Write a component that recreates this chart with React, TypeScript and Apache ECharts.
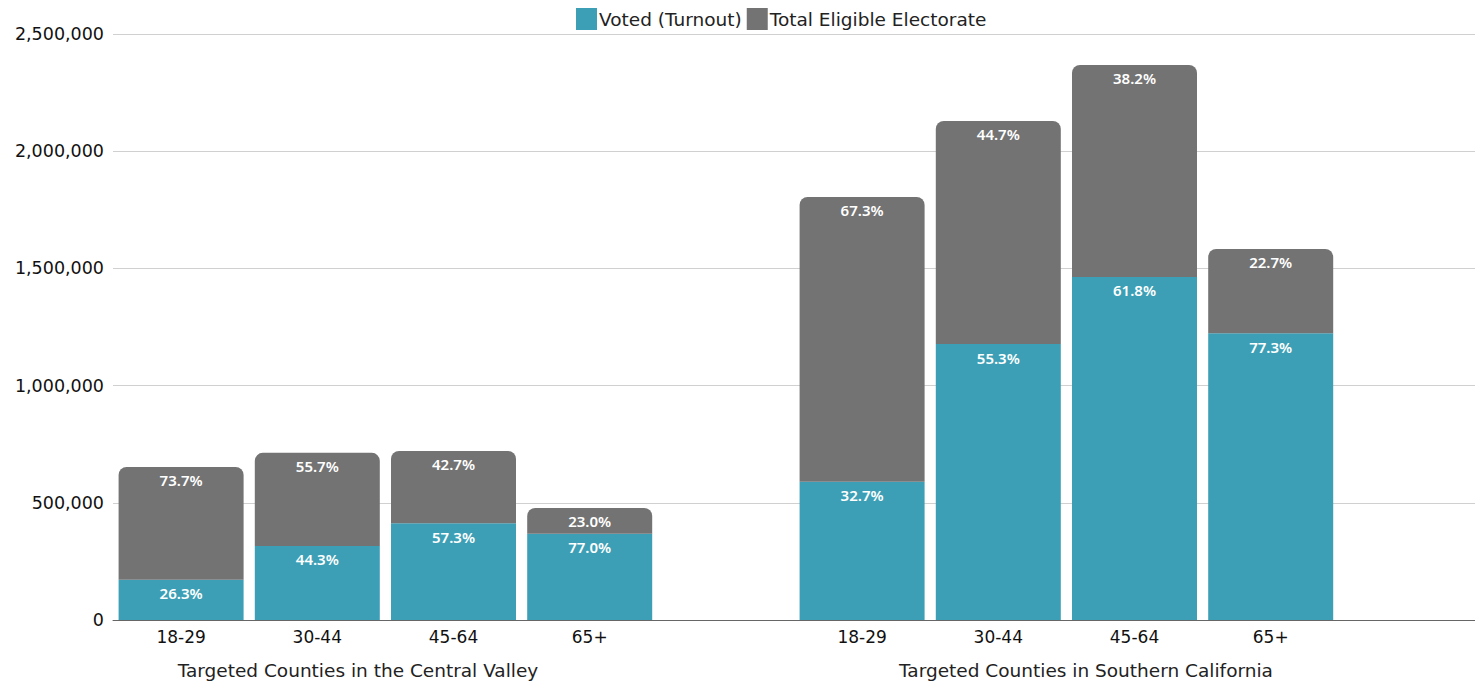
import React, { useEffect, useRef } from "react";
import * as echarts from "echarts";

// Age groups per region; an empty slot separates the two regions
const ageGroups = ["18-29", "30-44", "45-64", "65+"];
const regionNames = [
  "Targeted Counties in the Central Valley",
  "Targeted Counties in Southern California",
];

// Total eligible electorate per age group
const centralValleyEligible = [653000, 713000, 721000, 478000];
const southernCalEligible = [1805000, 2129000, 2368000, 1583000];

// Turnout share (%) per age group
const centralValleyTurnout = [26.3, 44.3, 57.3, 77.0];
const southernCalTurnout = [32.7, 55.3, 61.8, 77.3];

const yTicks = [0, 500000, 1000000, 1500000, 2000000, 2500000];

const TEAL = "#3c9fb6";
const GRAY = "#737373";
const FONT = '"DejaVu Sans", sans-serif';
const LABEL_FONT = '"Noto Sans", sans-serif';

type Slot = { label: string; eligible: number | null; pct: number | null };

function buildSlots(): Slot[] {
  const slots: Slot[] = [];
  ageGroups.forEach((g, i) =>
    slots.push({ label: g, eligible: centralValleyEligible[i], pct: centralValleyTurnout[i] })
  );
  slots.push({ label: "", eligible: null, pct: null });
  ageGroups.forEach((g, i) =>
    slots.push({ label: g, eligible: southernCalEligible[i], pct: southernCalTurnout[i] })
  );
  slots.push({ label: "", eligible: null, pct: null });
  return slots;
}

export default function App() {
  const ref = useRef<HTMLDivElement>(null);

  useEffect(() => {
    if (!ref.current) return;
    const chart = echarts.init(ref.current, undefined, { renderer: "svg" });
    const slots = buildSlots();

    const voted = slots.map((s) =>
      s.eligible == null ? "-" : Math.round((s.eligible * (s.pct as number)) / 100)
    );
    const notVoted = slots.map((s) =>
      s.eligible == null ? "-" : s.eligible - Math.round((s.eligible * (s.pct as number)) / 100)
    );

    const labelStyle = {
      show: true,
      position: "insideTop" as const,
      distance: 6,
      color: "#ffffff",
      fontSize: 15,
      fontWeight: 600 as const,
      fontFamily: LABEL_FONT,
    };

    const regionText = (name: string, x: number) => ({
      type: "text",
      x,
      y: 670,
      style: {
        text: name,
        fontSize: 18.5,
        fill: "#222",
        fontFamily: FONT,
        textAlign: "center",
        textVerticalAlign: "middle",
      },
    });

    chart.setOption({
      animation: false,
      textStyle: { fontFamily: FONT },
      legend: {
        top: 3,
        left: 571,
        itemWidth: 21,
        itemHeight: 22,
        itemGap: 5,
        icon: "rect",
        textStyle: { fontSize: 18.5, color: "#222", fontFamily: FONT, padding: [0, 0, 0, -3] },
        data: ["Voted (Turnout)", "Total Eligible Electorate"],
      },
      grid: { left: 113, right: 0, top: 34, bottom: 64, containLabel: false },
      xAxis: {
        type: "category",
        data: slots.map((s) => s.label),
        axisTick: { show: false },
        axisLine: { lineStyle: { color: "#666", width: 1 } },
        axisLabel: {
          interval: 0,
          margin: 8,
          fontSize: 17,
          color: "#111",
          fontFamily: FONT,
        },
      },
      yAxis: {
        type: "value",
        min: yTicks[0],
        max: yTicks[yTicks.length - 1],
        interval: yTicks[1] - yTicks[0],
        axisLine: { show: false },
        axisTick: { show: false },
        splitLine: { lineStyle: { color: "#d0d0d0", width: 1 } },
        axisLabel: {
          margin: 9,
          fontSize: 17.5,
          color: "#111",
          fontFamily: FONT,
          formatter: (v: number) => v.toLocaleString("en-US"),
        },
      },
      series: [
        {
          name: "Voted (Turnout)",
          type: "bar",
          stack: "total",
          barWidth: 125,
          itemStyle: { color: TEAL },
          data: voted,
          label: {
            ...labelStyle,
            formatter: (p: any) => {
              const s = slots[p.dataIndex];
              return s.pct == null ? "" : `${s.pct.toFixed(1)}%`;
            },
          },
        },
        {
          name: "Total Eligible Electorate",
          type: "bar",
          stack: "total",
          barWidth: 125,
          itemStyle: { color: GRAY, borderRadius: [8, 8, 0, 0] },
          data: notVoted,
          label: {
            ...labelStyle,
            formatter: (p: any) => {
              const s = slots[p.dataIndex];
              return s.pct == null ? "" : `${(100 - s.pct).toFixed(1)}%`;
            },
          },
        },
      ],
      graphic: [regionText(regionNames[0], 358), regionText(regionNames[1], 1086)],
    });

    return () => chart.dispose();
  }, []);

  return (
    <div
      ref={ref}
      style={{ position: "fixed", left: 0, top: 0, width: 1475, height: 684, background: "#fff" }}
    />
  );
}
